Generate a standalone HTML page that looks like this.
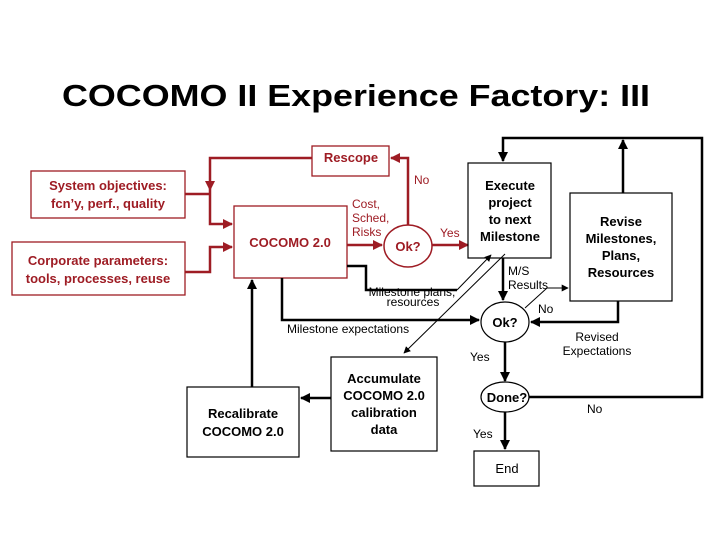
<!DOCTYPE html>
<html><head><meta charset="utf-8"><style>body{margin:0;background:#fff}svg{display:block}text{font-family:"Liberation Sans",Arial,sans-serif}</style></head><body>
<svg width="720" height="540" viewBox="0 0 720 540" xmlns="http://www.w3.org/2000/svg">
<defs>
<marker id="ar" viewBox="0 0 10 10" refX="9" refY="5" markerWidth="4" markerHeight="4" orient="auto"><path d="M0,0L10,5L0,10z" fill="#9e1c24"/></marker>
<marker id="ab" viewBox="0 0 10 10" refX="9" refY="5" markerWidth="4" markerHeight="4" orient="auto"><path d="M0,0L10,5L0,10z" fill="#000"/></marker>
<marker id="abs" viewBox="0 0 10 10" refX="9" refY="5" markerWidth="7" markerHeight="7" orient="auto"><path d="M0,0L10,5L0,10z" fill="#000"/></marker>
</defs>
<text x="356" y="106" font-size="31" font-weight="bold" text-anchor="middle" textLength="588" lengthAdjust="spacingAndGlyphs">COCOMO II Experience Factory: III</text>

<g fill="none" stroke="#9e1c24">
<rect x="312" y="146" width="77" height="30" stroke-width="1.3"/>
<rect x="31" y="171" width="154" height="47" stroke-width="1.3"/>
<rect x="12" y="242" width="173" height="53" stroke-width="1.3"/>
<rect x="234" y="206" width="113" height="72" stroke-width="1.3"/>
<ellipse cx="408" cy="246" rx="24" ry="21" stroke-width="1.5"/>
<g stroke-width="2.5">
<path d="M408 225V158H391" marker-end="url(#ar)"/>
<path d="M312 158H210V190" marker-end="url(#ar)"/>
<path d="M210 190V224H232" marker-end="url(#ar)"/>
<path d="M185 194H210"/>
<path d="M185 272H210V247H232" marker-end="url(#ar)"/>
<path d="M347 245H382" marker-end="url(#ar)"/>
<path d="M432 245H468" marker-end="url(#ar)"/>
</g>
</g>
<g fill="#9e1c24" font-size="13">
<text x="351" y="162" font-weight="bold" text-anchor="middle">Rescope</text>
<text x="108" y="190" font-weight="bold" text-anchor="middle">System objectives:</text>
<text x="108" y="208" font-weight="bold" text-anchor="middle">fcn’y, perf., quality</text>
<text x="98" y="265" font-weight="bold" text-anchor="middle">Corporate parameters:</text>
<text x="98" y="283" font-weight="bold" text-anchor="middle">tools, processes, reuse</text>
<text x="290" y="247" font-weight="bold" text-anchor="middle">COCOMO 2.0</text>
<text x="408" y="251" font-weight="bold" text-anchor="middle">Ok?</text>
<text x="414" y="184" font-size="12">No</text>
<text x="352" y="208" font-size="12">Cost,</text>
<text x="352" y="222" font-size="12">Sched,</text>
<text x="352" y="236" font-size="12">Risks</text>
<text x="440" y="237" font-size="12">Yes</text>
</g>

<g fill="none" stroke="#000">
<rect x="468" y="163" width="83" height="95" stroke-width="1.2"/>
<rect x="570" y="193" width="102" height="108" stroke-width="1.2"/>
<ellipse cx="505" cy="322" rx="24" ry="20" stroke-width="1.2"/>
<ellipse cx="505" cy="397" rx="24" ry="15" stroke-width="1.2"/>
<rect x="474" y="451" width="65" height="35" stroke-width="1.2"/>
<rect x="331" y="357" width="106" height="94" stroke-width="1.2"/>
<rect x="187" y="387" width="112" height="70" stroke-width="1.2"/>
<g stroke-width="2.5">
<path d="M529 397H702V138H503V161" marker-end="url(#ab)"/>
<path d="M623 193V140" marker-end="url(#ab)"/>
<path d="M503 258V300" marker-end="url(#ab)"/>
<path d="M618 301V322H531" marker-end="url(#ab)"/>
<path d="M282 278V320H479" marker-end="url(#ab)"/>
<path d="M347 266H366V290H457"/>
<path d="M505 342V381" marker-end="url(#ab)"/>
<path d="M505 412V449" marker-end="url(#ab)"/>
<path d="M252 387V280" marker-end="url(#ab)"/>
<path d="M331 398H301" marker-end="url(#ab)"/>
</g>
<g stroke-width="1">
<path d="M457 290L491 255" marker-end="url(#abs)"/>
<path d="M505 254L404 353" marker-end="url(#abs)"/>
<path d="M525 308L547 288H568" marker-end="url(#abs)"/>
</g>
</g>
<g fill="#000" font-size="12">
<g font-size="13" font-weight="bold" text-anchor="middle">
<text x="510" y="190">Execute</text>
<text x="510" y="207">project</text>
<text x="510" y="224">to next</text>
<text x="510" y="241">Milestone</text>
<text x="621" y="226">Revise</text>
<text x="621" y="243">Milestones,</text>
<text x="621" y="260">Plans,</text>
<text x="621" y="277">Resources</text>
<text x="505" y="327">Ok?</text>
<text x="507" y="402">Done?</text>
<text x="384" y="383">Accumulate</text>
<text x="384" y="400">COCOMO 2.0</text>
<text x="384" y="417">calibration</text>
<text x="384" y="434">data</text>
<text x="243" y="418">Recalibrate</text>
<text x="243" y="436">COCOMO 2.0</text>
</g>
<text x="507" y="473" text-anchor="middle" font-size="13">End</text>
<text x="508" y="275">M/S</text>
<text x="508" y="289">Results</text>
<text x="538" y="313">No</text>
<text x="412" y="296" text-anchor="middle">Milestone plans,</text>
<text x="413" y="306" text-anchor="middle">resources</text>
<text x="287" y="333">Milestone expectations</text>
<text x="470" y="361">Yes</text>
<text x="597" y="341" text-anchor="middle">Revised</text>
<text x="597" y="355" text-anchor="middle">Expectations</text>
<text x="587" y="413">No</text>
<text x="473" y="438">Yes</text>
</g>
</svg>
</body></html>
